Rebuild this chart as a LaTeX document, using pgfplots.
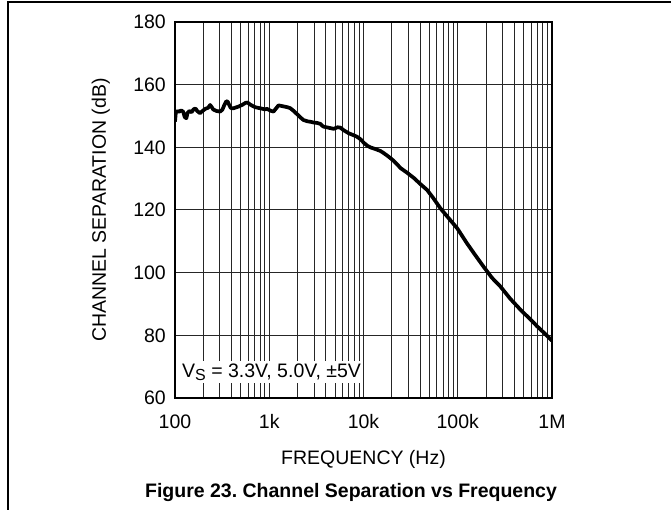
\documentclass[border=0pt]{standalone}
\usepackage{fontspec}
\setmainfont{Liberation Sans}
\usepackage{pgfplots}
\pgfplotsset{compat=1.18}

\begin{document}
\frenchspacing
\fontsize{19.5}{23}\selectfont
\begin{tikzpicture}
\useasboundingbox (-175pt,-112pt) rectangle (496pt,398pt);
% page frame (left and top rules only)
\draw[line width=2pt] (-167pt,-112pt) -- (-167pt,396pt) -- (496pt,396pt);
\begin{axis}[
	at={(0pt,0pt)}, anchor=south west,
	scale only axis, width=377pt, height=376pt,
	xmode=log, xmin=100, xmax=1000000,
	ymin=60, ymax=180,
	xtick={100,1000,10000,100000,1000000},
	xticklabels={100,1k,10k,100k,1M},
	minor xtick={200,300,400,500,600,700,800,900,
		2000,3000,4000,5000,6000,7000,8000,9000,
		20000,30000,40000,50000,60000,70000,80000,90000,
		200000,300000,400000,500000,600000,700000,800000,900000},
	ytick={60,80,...,180},
	/pgf/number format/assume math mode=true,
	xmajorgrids, xminorgrids, ymajorgrids,
	grid style={black!85, line width=1pt},
	minor grid style={black!85, line width=1pt},
	major tick length=0pt, minor tick length=0pt,
	axis line style={line width=1.5pt},
	xticklabel style={anchor=base, inner sep=0pt, yshift=-31pt},
	yticklabel style={anchor=east, inner sep=0pt, xshift=-9pt},
	xlabel={FREQUENCY (Hz)},
	xlabel style={at={(axis description cs:0.5,-0.178)}, anchor=base},
	ylabel={CHANNEL SEPARATION (dB)},
	ylabel style={at={(axis description cs:-0.197,0.5)}, anchor=center},
	clip=true,
]
\addplot[black, line width=3.7pt, line join=round] coordinates {
(100,148.2) (102,151.0) (106,151.6) (110,151.3) (116,151.8) (122,151.4)
(127,149.6) (132,149.3) (136,151.0) (142,151.6) (150,151.2) (157,152.1)
(165,152.4) (172,151.6) (184,150.9) (196,151.6) (210,152.3) (224,152.6)
(236,153.5) (246,152.8) (254,152.1) (275,151.6) (301,151.4) (318,152.0)
(335,153.6) (350,154.7) (362,154.6) (375,153.6) (390,152.6) (410,152.4)
(440,152.7) (472,153.0) (520,153.6) (560,154.2) (588,154.3) (630,153.6)
(710,152.8) (820,152.4) (900,152.1) (945,152.3) (1030,151.7) (1110,151.4)
(1180,152.4) (1254,153.4) (1350,153.2) (1450,153.0) (1560,152.8) (1670,152.5)
(1800,151.7) (1970,150.6) (2130,149.6) (2310,148.7) (2550,148.3) (2800,148.1)
(2960,147.9) (3200,147.8) (3480,147.5) (3650,146.9) (3770,146.6) (4200,146.3)
(4820,145.9) (5300,146.4) (5670,146.3) (6200,145.4) (6960,144.5) (7800,143.9)
(8500,143.4) (9270,142.6) (10200,141.3) (11000,140.5) (11800,140.0) (13500,139.4)
(15200,138.8) (16500,138.1) (18500,137.0) (20900,135.7) (24900,133.3) (29000,131.9)
(34600,130.1) (40000,128.3) (47300,126.4) (55000,123.8) (65600,120.5) (80000,117.4)
(99000,114.1) (125000,109.4) (150000,106.0) (188000,101.9) (230000,98.4) (285000,95.5)
(360000,91.7) (465000,88.1) (580000,85.3) (700000,82.8) (850000,80.4) (1000000,78.3)
};
\node[fill=white, inner sep=2pt, anchor=base west, xshift=5pt]
	at (axis cs:100,66.7) {V\raisebox{-0.35ex}{\fontsize{16}{16}\selectfont S} = 3.3V, 5.0V, \textpm5V};
\end{axis}
\node[font=\bfseries, anchor=base] at (176pt,-100pt) {Figure 23. Channel Separation vs Frequency};
\end{tikzpicture}
\end{document}
